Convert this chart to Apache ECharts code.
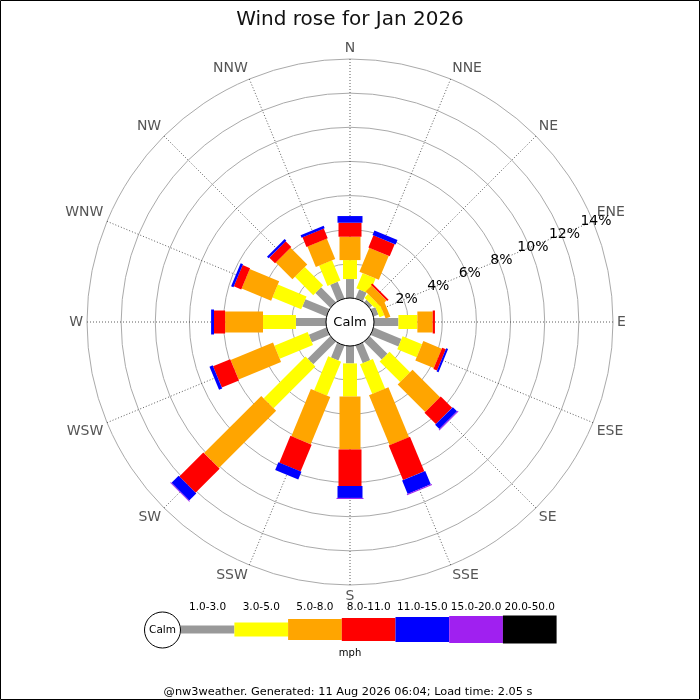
<!DOCTYPE html>
<html>
<head>
<meta charset="utf-8">
<title>Wind rose for Jan 2026</title>
<script src="https://cdn.jsdelivr.net/npm/echarts@6/dist/echarts.min.js"></script>
<style>
  html, body { margin: 0; padding: 0; background: #fff; }
  #chart { width: 700px; height: 700px; }
</style>
</head>
<body>
<div id="chart"></div>
<script>
// compass points, clockwise from north
const directions = ['N', 'NNE', 'NE', 'ENE', 'E', 'ESE', 'SE', 'SSE', 'S', 'SSW', 'SW', 'WSW', 'W', 'WNW', 'NW', 'NNW'];

// speed bands (mph) and their colours
const bands = ['1.0-3.0', '3.0-5.0', '5.0-8.0', '8.0-11.0', '11.0-15.0', '15.0-20.0', '20.0-50.0'];
const bandColors = ['#999999', '#ffff00', '#ffa500', '#ff0000', '#0000ff', '#a020f0', '#000000'];

// % of the month in each band, one value per direction (N..NNW)
const speed1to3   = [1.11, 0.56, 0.20, 0.30, 1.43, 1.76, 1.46, 1.11, 1.02, 0.94, 1.87, 1.11, 1.76, 1.52, 1.23, 1.05];
const speed3to5   = [1.11, 0.96, 0.30, 0.30, 1.11, 1.23, 1.70, 1.88, 1.94, 2.16, 3.46, 2.11, 1.93, 1.82, 1.52, 1.29];
const speed5to8   = [1.37, 1.52, 0.50, 0.30, 0.90, 1.17, 2.28, 3.16, 3.10, 2.99, 4.74, 2.69, 2.22, 1.87, 1.38, 1.29];
const speed8to11  = [0.82, 0.77, 0.12, 0.00, 0.13, 0.23, 0.94, 2.19, 2.14, 1.70, 1.99, 1.09, 0.65, 0.47, 0.47, 0.61];
const speed11to15 = [0.39, 0.29, 0.00, 0.00, 0.00, 0.12, 0.35, 0.85, 0.70, 0.49, 0.59, 0.20, 0.17, 0.15, 0.14, 0.15];
const speed15to20 = [0.00, 0.00, 0.00, 0.00, 0.00, 0.00, 0.06, 0.06, 0.06, 0.00, 0.05, 0.00, 0.00, 0.00, 0.00, 0.00];
const speed20to50 = [0.00, 0.00, 0.00, 0.00, 0.00, 0.00, 0.00, 0.00, 0.00, 0.00, 0.00, 0.00, 0.00, 0.00, 0.00, 0.00];

// ring labels (%)
const pctTicks = [2, 4, 6, 8, 10, 12, 14];

const bandValues = [speed1to3, speed3to5, speed5to8, speed8to11, speed11to15, speed15to20, speed20to50];

// bar thickness in px for each band (wider for stronger wind)
const bandThickness = [8, 14, 21, 23, 25, 27, 28];

const FONT = 'DejaVu Sans';

// start the angle axis at ENE so the % labels run along that spoke
const angleCats = directions.slice(3).concat(directions.slice(0, 3));

function barRenderer(thick, color) {
  return function (params, api) {
    const top = api.value(0);
    const base = api.value(2);
    if (!(top > base)) return null;
    const cs = params.coordSys;
    const ang = api.value(1);
    const a = api.coord([base, ang]);
    const b = api.coord([top, ang]);
    let ux = b[0] - cs.cx;
    let uy = b[1] - cs.cy;
    const len = Math.sqrt(ux * ux + uy * uy) || 1;
    ux /= len;
    uy /= len;
    const hx = -uy * thick / 2;
    const hy = ux * thick / 2;
    return {
      type: 'polygon',
      shape: {
        points: [
          [a[0] + hx, a[1] + hy],
          [b[0] + hx, b[1] + hy],
          [b[0] - hx, b[1] - hy],
          [a[0] - hx, a[1] - hy],
        ],
      },
      style: { fill: color },
    };
  };
}

// stack the bands outward from the calm circle
const cumulative = directions.map(() => 0);
const series = bands.map((name, i) => {
  const data = directions.map((d, j) => {
    const base = cumulative[j];
    const top = base + bandValues[i][j];
    cumulative[j] = top;
    return [top, angleCats.indexOf(d), base];
  });
  return {
    type: 'custom',
    name: name,
    coordinateSystem: 'polar',
    encode: { radius: 0, angle: 1 },
    renderItem: barRenderer(bandThickness[i], bandColors[i]),
    data: data,
    z: 2,
  };
});

// calm circle in the middle
series.push({
  type: 'custom',
  name: 'Calm',
  coordinateSystem: 'polar',
  encode: { radius: 0, angle: 1 },
  data: [[0, 0, 0]],
  z: 5,
  renderItem: function (params) {
    const cs = params.coordSys;
    return {
      type: 'group',
      children: [
        {
          type: 'circle',
          shape: { cx: cs.cx, cy: cs.cy, r: cs.r0 },
          style: { fill: '#fff', stroke: '#000', lineWidth: 1 },
        },
        {
          type: 'text',
          x: cs.cx,
          y: cs.cy + 1,
          style: {
            text: 'Calm', fill: '#000', fontSize: 13, fontFamily: FONT,
            align: 'center', verticalAlign: 'middle',
          },
        },
      ],
    };
  },
});

// legend strip along the bottom
const legendX0 = 180.7;
const legendStep = 53.7;
const legendY = 629.5;
const graphics = [
  {
    type: 'rect',
    shape: { x: 0.5, y: 0.5, width: 699, height: 699 },
    style: { fill: 'none', stroke: '#000', lineWidth: 1 },
    z: 100,
  },
];
bands.forEach((name, i) => {
  graphics.push({
    type: 'rect',
    shape: {
      x: legendX0 + i * legendStep,
      y: legendY - bandThickness[i] / 2,
      width: legendStep,
      height: bandThickness[i],
    },
    style: { fill: bandColors[i] },
  });
  graphics.push({
    type: 'text',
    x: legendX0 + (i + 0.5) * legendStep,
    y: 607,
    style: {
      text: name, fill: '#000', fontSize: 10.5, fontFamily: FONT,
      align: 'center', verticalAlign: 'middle',
    },
  });
});
graphics.push(
  {
    type: 'circle',
    shape: { cx: 162.5, cy: 630, r: 18 },
    style: { fill: '#fff', stroke: '#000', lineWidth: 1 },
    z: 10,
  },
  {
    type: 'text',
    x: 162.5,
    y: 630,
    z: 11,
    style: {
      text: 'Calm', fill: '#000', fontSize: 10.5, fontFamily: FONT,
      align: 'center', verticalAlign: 'middle',
    },
  },
  {
    type: 'text',
    x: 350,
    y: 653,
    style: {
      text: 'mph', fill: '#000', fontSize: 10, fontFamily: FONT,
      align: 'center', verticalAlign: 'middle',
    },
  },
  {
    type: 'text',
    x: 348,
    y: 692.5,
    style: {
      text: '@nw3weather. Generated: 11 Aug 2026 06:04; Load time: 2.05 s',
      fill: '#000', fontSize: 11.3, fontFamily: FONT,
      align: 'center', verticalAlign: 'middle',
    },
  }
);

const chart = echarts.init(document.getElementById('chart'), null, { renderer: 'canvas' });

chart.setOption({
  backgroundColor: '#fff',
  animation: false,
  title: {
    text: 'Wind rose for Jan 2026',
    left: 'center',
    top: 5,
    textStyle: { fontSize: 20, fontWeight: 'normal', color: '#111', fontFamily: FONT },
  },
  polar: {
    center: [350, 322],
    radius: [24, 263],
  },
  // value axis so the rings close all the way round; one unit per compass point
  angleAxis: {
    type: 'value',
    min: 0,
    max: angleCats.length,
    interval: 1,
    startAngle: 22.5,
    clockwise: true,
    axisLine: { show: false },
    axisTick: { show: false },
    axisLabel: {
      margin: 4,
      color: '#555',
      fontSize: 14,
      fontFamily: FONT,
      formatter: v => angleCats[Math.round(v) % angleCats.length],
    },
    splitLine: { show: true, lineStyle: { color: '#333', width: 0.8, type: [1, 2] } },
  },
  radiusAxis: {
    type: 'value',
    min: 0,
    max: pctTicks[pctTicks.length - 1],
    interval: pctTicks[1] - pctTicks[0],
    axisLine: { show: false },
    axisTick: { show: false },
    axisLabel: {
      formatter: '{value}%',
      showMinLabel: false,
      margin: 0,
      align: 'center',
      verticalAlign: 'middle',
      padding: [0, 0, 2, 6],
      color: '#000',
      fontSize: 14,
      fontFamily: FONT,
    },
    splitLine: { show: true, lineStyle: { color: '#aaa', width: 1 } },
  },
  graphic: graphics,
  series: series,
});
</script>
</body>
</html>
